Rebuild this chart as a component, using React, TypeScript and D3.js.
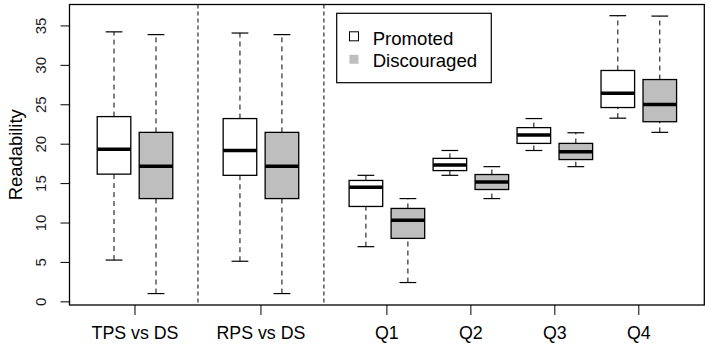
import React, { useEffect, useRef } from 'react'
import * as d3 from 'd3'

// five-number summaries: [lower whisker, Q1, median, Q3, upper whisker]
const groups = ['TPS vs DS', 'RPS vs DS', 'Q1', 'Q2', 'Q3', 'Q4']
const groupAt = [1.5, 4.5, 7.5, 9.5, 11.5, 13.5]
const dividers = [3, 6]
const promoted = [
  [5.3, 16.2, 19.35, 23.5, 34.25],
  [5.15, 16.05, 19.2, 23.25, 34.1],
  [7.0, 12.1, 14.55, 15.4, 16.05],
  [16.05, 16.65, 17.35, 18.2, 19.2],
  [19.2, 20.1, 21.15, 22.1, 23.25],
  [23.3, 24.65, 26.45, 29.35, 36.3],
]
const discouraged = [
  [1.05, 13.1, 17.2, 21.5, 33.9],
  [1.05, 13.1, 17.2, 21.5, 33.9],
  [2.45, 8.05, 10.35, 11.85, 13.1],
  [13.1, 14.25, 15.2, 16.15, 17.15],
  [17.15, 18.05, 19.05, 20.1, 21.45],
  [21.5, 22.85, 25.05, 28.2, 36.25],
]
const yTicks = [0, 5, 10, 15, 20, 25, 30, 35]
const seriesNames = ['Promoted', 'Discouraged']
const seriesFill = ['#ffffff', '#bebebe']

const width = 709
const height = 345
const left = 69.5
const right = 704.3
const top = 4.5
const bottom = 305
const font = 'Liberation Sans, Arial, sans-serif'

export default function App() {
  const node = useRef<SVGSVGElement>(null)

  useEffect(() => {
    const svg = d3.select(node.current)
    svg.selectAll('*').remove()

    const x = d3.scaleLinear().domain([-0.06, 15.06]).range([left, right])
    const y = d3.scaleLinear().domain([-0.4, 37.72]).range([bottom, top])
    const boxW = x(0.8) - x(0)

    // dashed separators
    svg.selectAll('line.divider')
      .data(dividers)
      .enter()
      .append('line')
      .attr('x1', d => x(d)).attr('x2', d => x(d))
      .attr('y1', top).attr('y2', bottom)
      .attr('stroke', '#000').attr('stroke-width', 1)
      .attr('stroke-dasharray', '4,3')

    const boxes: { at: number; s: number[]; fill: string }[] = []
    groupAt.forEach((g, i) => {
      boxes.push({ at: g - 0.5, s: promoted[i], fill: seriesFill[0] })
      boxes.push({ at: g + 0.5, s: discouraged[i], fill: seriesFill[1] })
    })

    const b = svg.selectAll('g.box').data(boxes).enter().append('g').attr('class', 'box')
    // whiskers
    b.append('line')
      .attr('x1', d => x(d.at)).attr('x2', d => x(d.at))
      .attr('y1', d => y(d.s[0])).attr('y2', d => y(d.s[1]))
      .attr('stroke', '#000').attr('stroke-dasharray', '5,4')
    b.append('line')
      .attr('x1', d => x(d.at)).attr('x2', d => x(d.at))
      .attr('y1', d => y(d.s[3])).attr('y2', d => y(d.s[4]))
      .attr('stroke', '#000').attr('stroke-dasharray', '5,4')
    // staples
    b.selectAll('line.cap')
      .data(d => [d.s[0], d.s[4]].map(v => ({ at: d.at, v })))
      .enter()
      .append('line')
      .attr('x1', d => x(d.at) - boxW / 4).attr('x2', d => x(d.at) + boxW / 4)
      .attr('y1', d => y(d.v)).attr('y2', d => y(d.v))
      .attr('stroke', '#000').attr('stroke-width', 1.2)
    b.append('rect')
      .attr('x', d => x(d.at) - boxW / 2)
      .attr('width', boxW)
      .attr('y', d => y(d.s[3]))
      .attr('height', d => y(d.s[1]) - y(d.s[3]))
      .attr('fill', d => d.fill)
      .attr('stroke', '#000').attr('stroke-width', 1.3)
    b.append('line')
      .attr('x1', d => x(d.at) - boxW / 2).attr('x2', d => x(d.at) + boxW / 2)
      .attr('y1', d => y(d.s[2])).attr('y2', d => y(d.s[2]))
      .attr('stroke', '#000').attr('stroke-width', 3.5)

    // frame
    svg.append('rect')
      .attr('x', left).attr('y', top)
      .attr('width', right - left).attr('height', bottom - top)
      .attr('fill', 'none').attr('stroke', '#000').attr('stroke-width', 1.3)

    // y axis
    svg.append('line')
      .attr('x1', left - 9).attr('x2', left - 9)
      .attr('y1', y(0)).attr('y2', y(35))
      .attr('stroke', 'none')
    const yt = svg.selectAll('g.ytick').data(yTicks).enter().append('g')
    yt.append('line')
      .attr('x1', left - 9).attr('x2', left)
      .attr('y1', d => y(d)).attr('y2', d => y(d))
      .attr('stroke', '#000')
    yt.append('text')
      .attr('transform', d => `translate(46,${y(d)}) rotate(-90)`)
      .attr('text-anchor', 'middle')
      .attr('font-family', font).attr('font-size', 15)
      .attr('fill', '#1a1a1a')
      .text(d => d)

    svg.append('text')
      .attr('transform', `translate(22,${(top + bottom) / 2}) rotate(-90)`)
      .attr('text-anchor', 'middle')
      .attr('font-family', font).attr('font-size', 18.4)
      .text('Readability')

    // x axis
    const xt = svg.selectAll('g.xtick').data(groups).enter().append('g')
    xt.append('line')
      .attr('x1', (d, i) => x(groupAt[i])).attr('x2', (d, i) => x(groupAt[i]))
      .attr('y1', bottom).attr('y2', bottom + 10)
      .attr('stroke', '#000')
    xt.append('text')
      .attr('x', (d, i) => x(groupAt[i]))
      .attr('y', 339)
      .attr('text-anchor', 'middle')
      .attr('font-family', font).attr('font-size', 17.8)
      .text(d => d)

    // legend
    const lg = svg.append('g')
    lg.append('rect')
      .attr('x', 336.7).attr('y', 13.3).attr('width', 154.6).attr('height', 69.4)
      .attr('fill', '#fff').attr('stroke', '#000').attr('stroke-width', 1.2)
    seriesNames.forEach((name, i) => {
      lg.append('rect')
        .attr('x', 349.5).attr('y', 31.8 + i * 23).attr('width', 9).attr('height', 9)
        .attr('fill', seriesFill[i])
        .attr('stroke', i === 0 ? '#000' : 'none')
      lg.append('text')
        .attr('x', 372.7).attr('y', 45 + i * 22)
        .attr('font-family', font).attr('font-size', 18.6)
        .text(name)
    })
  }, [])

  return (
    <svg ref={node} width={width} height={height}
      style={{ position: 'absolute', left: 0, top: 0, background: '#fff' }} />
  )
}
